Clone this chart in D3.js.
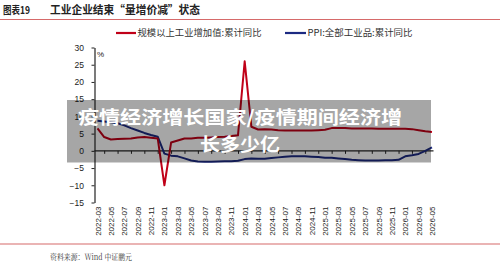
<!DOCTYPE html>
<html><head><meta charset="utf-8">
<script src="https://cdn.jsdelivr.net/npm/d3@7/dist/d3.min.js"></script>
<style>
html,body{margin:0;padding:0;background:#fff;}
svg{display:block;}
</style></head>
<body>
<svg id="chart" width="500" height="264"></svg>
<script>
// ---- data ----
const months = [
 "2022-03","2022-04","2022-05","2022-06","2022-07","2022-08","2022-09","2022-10","2022-11","2022-12",
 "2023-01","2023-02","2023-03","2023-04","2023-05","2023-06","2023-07","2023-08","2023-09","2023-10","2023-11","2023-12",
 "2024-01","2024-02","2024-03","2024-04","2024-05","2024-06","2024-07","2024-08","2024-09","2024-10","2024-11","2024-12",
 "2025-01","2025-02","2025-03","2025-04","2025-05","2025-06","2025-07","2025-08","2025-09","2025-10","2025-11","2025-12",
 "2026-01","2026-02","2026-03","2026-04","2026-05"];
const ivaValues = [
 6.5,4.0,3.3,3.4,3.5,3.6,3.9,4.0,3.8,3.6,
 -10.0,2.4,3.0,3.6,3.6,3.8,3.8,3.9,4.0,4.1,4.3,4.5,
 26.0,7.0,6.2,6.3,6.2,6.0,5.9,5.9,5.9,5.9,5.9,6.0,
 6.1,6.6,6.6,6.6,6.5,6.5,6.5,6.5,6.4,6.4,6.4,6.4,
 6.4,6.3,6.0,5.7,5.5];
const ppiValues = [
 8.7,8.5,8.3,8.0,7.4,6.6,5.9,5.2,4.6,4.1,
 -0.8,-1.4,-1.6,-2.2,-2.8,-3.1,-3.2,-3.2,-3.1,-3.0,-3.0,-2.9,
 -2.4,-2.2,-2.3,-2.3,-2.1,-1.9,-1.7,-1.6,-1.6,-1.6,-1.7,-1.8,
 -2.0,-2.0,-2.2,-2.4,-2.6,-2.7,-2.8,-2.8,-2.8,-2.7,-2.7,-2.6,
 -1.6,-1.3,-0.9,0.0,1.0];
const yTicks = [30,25,20,15,10,5,0,-5,-10,-15];
const labelMonths = months.filter((d,i)=>i%2===0);
const tickMonths = months.filter((d,i)=>i%2===1);
const seriesNames = ["规模以上工业增加值:累计同比","PPI:全部工业品:累计同比"];
const titleNo = "图表19";
const titleText = "工业企业结束“量增价减”状态";
const sourceText = "资料来源：Wind   中证鹏元";
const overlayLines = ["疫情经济增长国家/疫情期间经济增","长多少亿"];

// ---- drawing ----
const svg = d3.select("#chart");
const RED = "#c00018", BLUE = "#1c2a82", RULE = "#d66a6a";
const CJK = "'Noto Sans CJK SC','Noto Sans',sans-serif";
const LAT = "'Liberation Sans',Arial,sans-serif";

const x = d3.scalePoint().domain(months).range([97.5, 432]);
const y = d3.scaleLinear().domain([-15,30]).range([202.5, 47.5]);
const axisX = 94.5;

// title
svg.append("text").attr("x",3).attr("y",13.5).attr("font-family",CJK).attr("font-weight","bold")
  .attr("font-size",10.5).attr("fill","#222").attr("textLength",27).attr("lengthAdjust","spacingAndGlyphs").text(titleNo);
svg.append("text").attr("x",50).attr("y",13.5).attr("font-family",CJK).attr("font-weight","bold")
  .attr("font-size",11).attr("fill","#222").attr("textLength",150).attr("lengthAdjust","spacingAndGlyphs").text(titleText);
svg.append("line").attr("x1",0).attr("x2",500).attr("y1",19.5).attr("y2",19.5)
  .attr("stroke",RULE).attr("stroke-width",1.2);

// legend
const leg = [{x1:116,x2:136,c:RED,t:seriesNames[0],w:124},{x1:285,x2:306,c:BLUE,t:seriesNames[1],w:105}];
leg.forEach(l=>{
  svg.append("line").attr("x1",l.x1).attr("x2",l.x2).attr("y1",33).attr("y2",33)
    .attr("stroke",l.c).attr("stroke-width",2.2);
  svg.append("text").attr("x",l.x2+1.5).attr("y",36.2).attr("font-family",CJK)
    .attr("font-size",9).attr("fill","#333").attr("textLength",l.w).attr("lengthAdjust","spacingAndGlyphs").text(l.t);
});

// y axis
const yAxis = svg.append("g").attr("transform",`translate(${axisX},0)`)
  .call(d3.axisLeft(y).tickValues(yTicks).tickSize(3).tickSizeOuter(0));
yAxis.select(".domain").attr("stroke","#222").attr("stroke-width",1.2);
yAxis.selectAll(".tick line").attr("stroke","#222");
yAxis.selectAll("text").attr("font-family",LAT).attr("font-size",8.5).attr("fill","#222")
  .attr("x",-10.5);
svg.append("text").attr("x",97).attr("y",57).attr("font-family",LAT).attr("font-size",8)
  .attr("fill","#222").text("%");

// x axis at zero
const xAxis = svg.append("g").attr("transform",`translate(0,${y(0)})`)
  .call(d3.axisBottom(x).tickValues(tickMonths).tickSize(3).tickFormat(""));
xAxis.select(".domain").remove();
xAxis.selectAll(".tick line").attr("stroke","#222");
svg.append("line").attr("x1",axisX).attr("x2",x.range()[1]+1.5).attr("y1",y(0)).attr("y2",y(0))
  .attr("stroke","#222").attr("stroke-width",1.1);

// x labels
const xLab = svg.append("g").attr("transform",`translate(0,${y(-15)+4})`)
  .call(d3.axisBottom(x).tickValues(labelMonths).tickSize(0));
xLab.select(".domain").remove();
xLab.selectAll("text").attr("font-family",LAT).attr("font-size",8).attr("fill","#222")
  .attr("transform","rotate(-90)").attr("text-anchor","end").attr("x",0).attr("y",0).attr("dy","0.32em");

// lines
const line = vals => d3.line().x((d,i)=>x(months[i])).y(d=>y(d))(vals);
svg.append("path").attr("d",line(ppiValues)).attr("fill","none").attr("stroke",BLUE)
  .attr("stroke-width",2).attr("stroke-linejoin","round");
svg.append("path").attr("d",line(ivaValues)).attr("fill","none").attr("stroke",RED)
  .attr("stroke-width",2).attr("stroke-linejoin","round");

// bottom rule and source
svg.append("line").attr("x1",0).attr("x2",500).attr("y1",244).attr("y2",244)
  .attr("stroke",RULE).attr("stroke-width",1.2);
svg.append("text").attr("x",50).attr("y",260).attr("font-family","'Noto Serif CJK SC','Noto Sans CJK SC',serif")
  .attr("font-size",8.5).attr("fill","#333").attr("textLength",82).attr("lengthAdjust","spacingAndGlyphs").text(sourceText);

// overlay band
svg.append("rect").attr("x",67).attr("y",100).attr("width",364).attr("height",62.5)
  .attr("fill","rgba(0,0,0,0.35)");
const ov = [{x:78,y:123.5,w:324},{x:200,y:150.5,w:80}];
overlayLines.forEach((t,i)=>{
  svg.append("text").attr("x",ov[i].x).attr("y",ov[i].y)
    .attr("font-family",CJK).attr("font-weight","bold").attr("font-size",18.5)
    .attr("textLength",ov[i].w).attr("lengthAdjust","spacingAndGlyphs")
    .attr("fill","#fff").text(t);
});
</script>
</body></html>
